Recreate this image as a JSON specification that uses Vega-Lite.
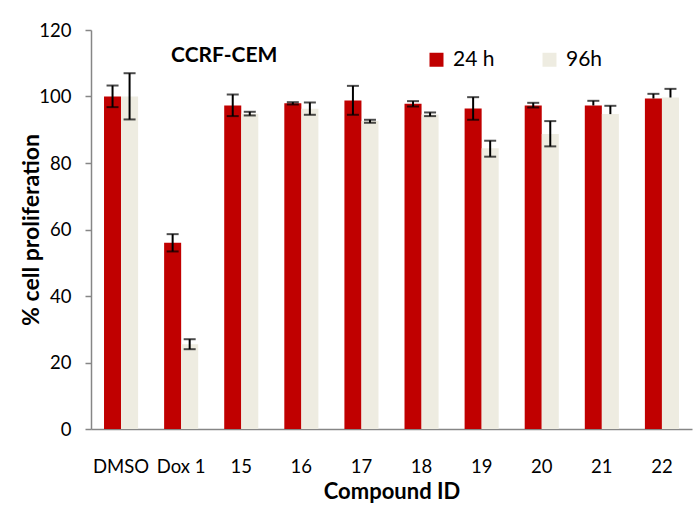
{
  "$schema": "https://vega.github.io/schema/vega-lite/v6.json",
  "width": 601,
  "height": 399,
  "autosize": {"type": "none"},
  "padding": {"left": 91, "top": 30, "right": 7, "bottom": 79},
  "background": "white",
  "config": {
    "view": {"stroke": null},
    "font": "Lato",
    "axis": {
      "labelFont": "Lato",
      "titleFont": "Lato",
      "labelColor": "black",
      "titleColor": "black",
      "domainColor": "#868686",
      "tickColor": "#868686",
      "domainWidth": 1.5,
      "tickWidth": 1.5,
      "grid": false
    }
  },
  "data": {
    "values": [
      {"compound": "DMSO", "time": "24 h", "value": 100.0, "lo": 96.8, "hi": 103.3},
      {"compound": "DMSO", "time": "96h", "value": 100.0, "lo": 93.1, "hi": 107.0},
      {"compound": "Dox 1", "time": "24 h", "value": 56.0, "lo": 53.4, "hi": 58.6},
      {"compound": "Dox 1", "time": "96h", "value": 25.5, "lo": 24.0, "hi": 27.0},
      {"compound": "15", "time": "24 h", "value": 97.3, "lo": 94.1, "hi": 100.6},
      {"compound": "15", "time": "96h", "value": 94.8, "lo": 94.3, "hi": 95.4},
      {"compound": "16", "time": "24 h", "value": 98.0, "lo": 97.6, "hi": 98.3},
      {"compound": "16", "time": "96h", "value": 96.3, "lo": 94.5, "hi": 98.2},
      {"compound": "17", "time": "24 h", "value": 98.8, "lo": 94.5, "hi": 103.2},
      {"compound": "17", "time": "96h", "value": 92.6, "lo": 92.1, "hi": 93.0},
      {"compound": "18", "time": "24 h", "value": 97.8, "lo": 97.0, "hi": 98.6},
      {"compound": "18", "time": "96h", "value": 94.6, "lo": 94.1, "hi": 95.2},
      {"compound": "19", "time": "24 h", "value": 96.4, "lo": 93.0, "hi": 99.8},
      {"compound": "19", "time": "96h", "value": 84.4, "lo": 81.9, "hi": 86.7},
      {"compound": "20", "time": "24 h", "value": 97.3, "lo": 96.7, "hi": 98.1},
      {"compound": "20", "time": "96h", "value": 88.7, "lo": 85.0, "hi": 92.6},
      {"compound": "21", "time": "24 h", "value": 97.3, "lo": 97.3, "hi": 98.7},
      {"compound": "21", "time": "96h", "value": 94.7, "lo": 94.7, "hi": 97.2},
      {"compound": "22", "time": "24 h", "value": 99.4, "lo": 99.4, "hi": 100.8},
      {"compound": "22", "time": "96h", "value": 99.7, "lo": 99.7, "hi": 102.3}
    ]
  },
  "encoding": {
    "x": {
      "field": "compound",
      "type": "nominal",
      "sort": null,
      "scale": {"paddingInner": 0.433, "paddingOuter": 0.2167},
      "axis": {
        "title": "Compound ID",
        "titleFontSize": 22,
        "titleFontWeight": "bold",
        "titlePadding": 6,
        "labelAngle": 0,
        "labelFontSize": 18.5,
        "labelPadding": 28,
        "ticks": false
      }
    },
    "xOffset": {"field": "time", "type": "nominal", "sort": ["24 h", "96h"], "scale": {"paddingInner": 0, "paddingOuter": 0}}
  },
  "layer": [
    {
      "mark": {"type": "bar"},
      "encoding": {
        "y": {
          "field": "value",
          "type": "quantitative",
          "scale": {"domain": [0, 120], "nice": false},
          "axis": {
            "title": "% cell proliferation",
            "titleFontSize": 23,
            "titleFontWeight": "bold",
            "titlePadding": -5,
            "values": [0, 20, 40, 60, 80, 100, 120],
            "labelFontSize": 18.5,
            "labelPadding": 14,
            "tickSize": 6
          }
        },
        "color": {
          "field": "time",
          "type": "nominal",
          "scale": {"domain": ["24 h", "96h"], "range": ["#C00000", "#EEECE1"]},
          "legend": {
            "title": null,
            "orient": "none",
            "legendX": 335,
            "legendY": 19,
            "direction": "horizontal",
            "symbolType": "square",
            "symbolSize": 196,
            "symbolStrokeWidth": 0,
            "labelFontSize": 21,
            "labelFont": "Lato",
            "labelColor": "black",
            "labelOffset": 6,
            "columnPadding": 44
          }
        }
      }
    },
    {
      "mark": {"type": "rule", "color": "black", "strokeWidth": 2},
      "encoding": {
        "y": {"field": "lo", "type": "quantitative"},
        "y2": {"field": "hi"}
      }
    },
    {
      "mark": {"type": "tick", "color": "black", "thickness": 2, "size": 12, "orient": "horizontal"},
      "encoding": {
        "y": {"field": "hi", "type": "quantitative"}
      }
    },
    {
      "transform": [{"filter": "datum.lo < datum.value"}],
      "mark": {"type": "tick", "color": "black", "thickness": 2, "size": 12, "orient": "horizontal"},
      "encoding": {
        "y": {"field": "lo", "type": "quantitative"}
      }
    },
    {
      "data": {"values": [{"label": "CCRF-CEM", "compound": "15", "level": 112.2}]},
      "mark": {"type": "text", "fontWeight": "bold", "fontSize": 21, "font": "Lato", "color": "black", "baseline": "middle", "align": "center"},
      "encoding": {
        "x": {"field": "compound", "type": "nominal", "bandPosition": 0.15},
        "xOffset": {"value": 0},
        "y": {"field": "level", "type": "quantitative"},
        "text": {"field": "label"}
      }
    }
  ]
}
